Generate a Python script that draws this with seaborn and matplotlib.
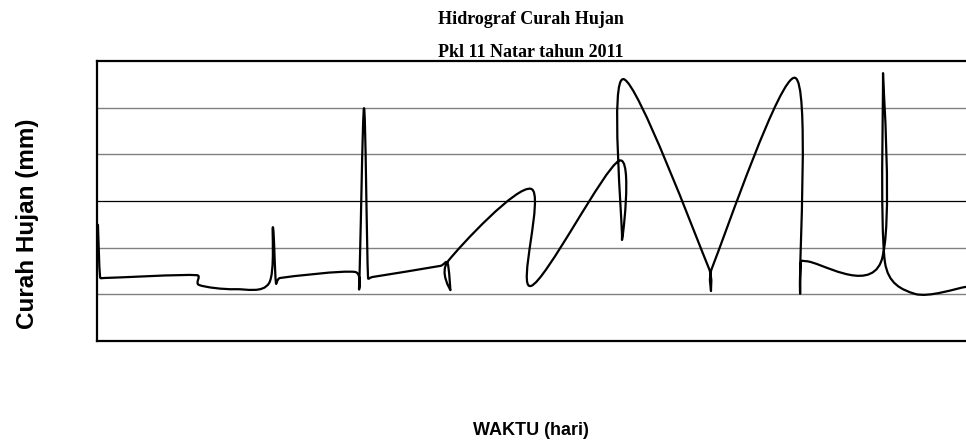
import numpy as np
import matplotlib
matplotlib.use("Agg")
import matplotlib.pyplot as plt
from matplotlib.path import Path
from matplotlib.patches import PathPatch
import seaborn as sns

# data (hari ke-, curah hujan mm)
hari = [0.4, 1.3, 2.9, 42.0, 42.9, 58.0, 72.3, 73.9, 75.2, 76.9, 108.4, 110.1, 112.2, 113.9,
        115.6, 144.3, 147.3, 148.5, 147.5, 182.4, 182.4, 219.3, 220.6, 221.4, 257.1, 258.0,
        258.4, 293.3, 295.4, 295.8, 297.9, 329.4, 330.3, 331.1, 343.7, 365.1]
hujan = [24.9, 13.7, 13.5, 14.1, 12.0, 11.1, 12.4, 24.4, 12.4, 13.5, 14.8, 11.4, 49.9, 13.5,
         13.7, 16.1, 16.7, 10.9, 17.1, 32.6, 11.8, 38.6, 21.9, 56.1, 15.6, 10.7,
         15.6, 56.4, 10.9, 16.9, 17.1, 16.9, 57.4, 16.9, 10.1, 11.6]
grid_y = [10, 20, 40, 50]
sumbu_y = 30

sns.set_style("white")

fig = plt.figure(figsize=(9.66, 4.44), dpi=100)
ax = fig.add_axes([97 / 966, 103 / 444, 871 / 966, 280 / 444])
ax.set_xlim(0, 366)
ax.set_ylim(0, 60)

# garis halus ala "smoothed line" Excel: bezier kubik, titik kontrol dihitung di ruang layar
pts = ax.transData.transform(np.column_stack([hari, hujan]))
n = len(pts)
verts = [pts[0]]
codes = [Path.MOVETO]
for i in range(n - 1):
    p0 = pts[i - 1] if i > 0 else pts[i]
    p1, p2 = pts[i], pts[i + 1]
    p3 = pts[i + 2] if i + 2 < n else pts[i + 1]
    d12 = np.hypot(*(p2 - p1))
    d02 = np.hypot(*(p2 - p0))
    d13 = np.hypot(*(p3 - p1))
    f0 = 1 / 6 if d02 / 6 < d12 / 2 else d12 / (2 * d02)
    f3 = 1 / 6 if d13 / 6 < d12 / 2 else d12 / (2 * d13)
    verts += [p1 + (p2 - p0) * f0, p2 - (p3 - p1) * f3, p2]
    codes += [Path.CURVE4] * 3
verts = ax.transData.inverted().transform(np.array(verts))
ax.add_patch(PathPatch(Path(verts, codes), facecolor="none", edgecolor="black",
                       lw=1.6, zorder=3, capstyle="round", joinstyle="round"))

for g in grid_y:
    ax.axhline(g, color="#808080", lw=1.0, zorder=1)
ax.axhline(sumbu_y, color="black", lw=0.9, zorder=1)

ax.set_xticks([])
ax.set_yticks([])
for s in ["left", "top", "bottom", "right"]:
    ax.spines[s].set_color("black")
    ax.spines[s].set_linewidth(1.6)

fig.text(531 / 966, 1 - 24 / 444, "Hidrograf Curah Hujan", ha="center", va="baseline",
         fontsize=13, fontweight="bold", family="Liberation Serif", color="black")
fig.text(531 / 966, 1 - 57 / 444, "Pkl 11 Natar tahun 2011", ha="center", va="baseline",
         fontsize=13, fontweight="bold", family="Liberation Serif", color="black")
fig.text(28 / 966, 1 - 224 / 444, "Curah Hujan (mm)", rotation=90, ha="center", va="center",
         fontsize=17.5, fontweight="bold", family="Liberation Sans", color="black")
fig.text(531 / 966, 1 - 430 / 444, "WAKTU (hari)", ha="center", va="center",
         fontsize=13, fontweight="bold", family="Liberation Sans", color="black")

fig.savefig("out.png", dpi=100)
